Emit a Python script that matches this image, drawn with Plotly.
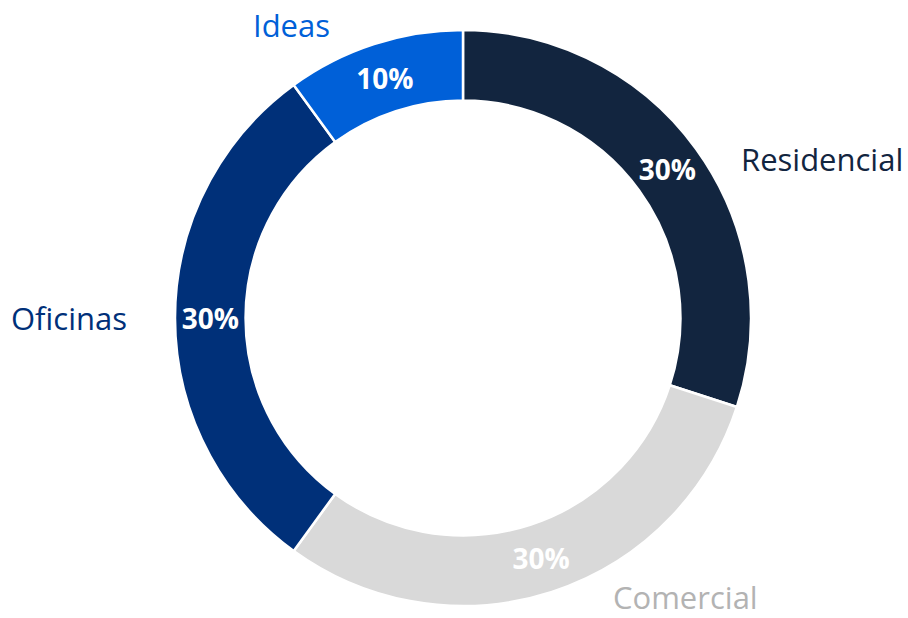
import plotly.graph_objects as go

labels = ["Residencial", "Comercial", "Oficinas", "Ideas"]
values = [30, 30, 30, 10]

slice_colors = ["#12253f", "#d9d9d9", "#003079", "#0060d8"]
label_colors = ["#12253f", "#b3b3b3", "#003079", "#0060d8"]
# outside label centres (pixels) in the 908x618 canvas
label_px = [(822, 159), (685, 597), (69, 318), (291, 25)]

W, H = 908, 618
cx, cy, R = 463, 318, 288

fig = go.Figure(go.Pie(
    labels=labels,
    values=values,
    sort=False,
    direction="clockwise",
    rotation=0,
    hole=0.755,
    marker=dict(colors=slice_colors, line=dict(color="white", width=2.5)),
    texttemplate="%{percent:.0%}",
    textposition="inside",
    insidetextorientation="horizontal",
    insidetextfont=dict(family="Open Sans", size=28, color="white", weight="bold"),
    showlegend=False,
    hoverinfo="label+percent",
    domain=dict(x=[(cx - R) / W, (cx + R) / W], y=[(H - cy - R) / H, (H - cy + R) / H]),
))

for lab, col, (px, py) in zip(labels, label_colors, label_px):
    fig.add_annotation(
        x=px / W, y=1 - py / H, xref="paper", yref="paper",
        text=lab, showarrow=False, xanchor="center", yanchor="middle",
        borderpad=0,
        font=dict(family="Open Sans", size=31, color=col),
    )

fig.update_layout(
    width=W, height=H,
    margin=dict(l=0, r=0, t=0, b=0),
    paper_bgcolor="white", plot_bgcolor="white",
)

fig.write_html("out.html")
